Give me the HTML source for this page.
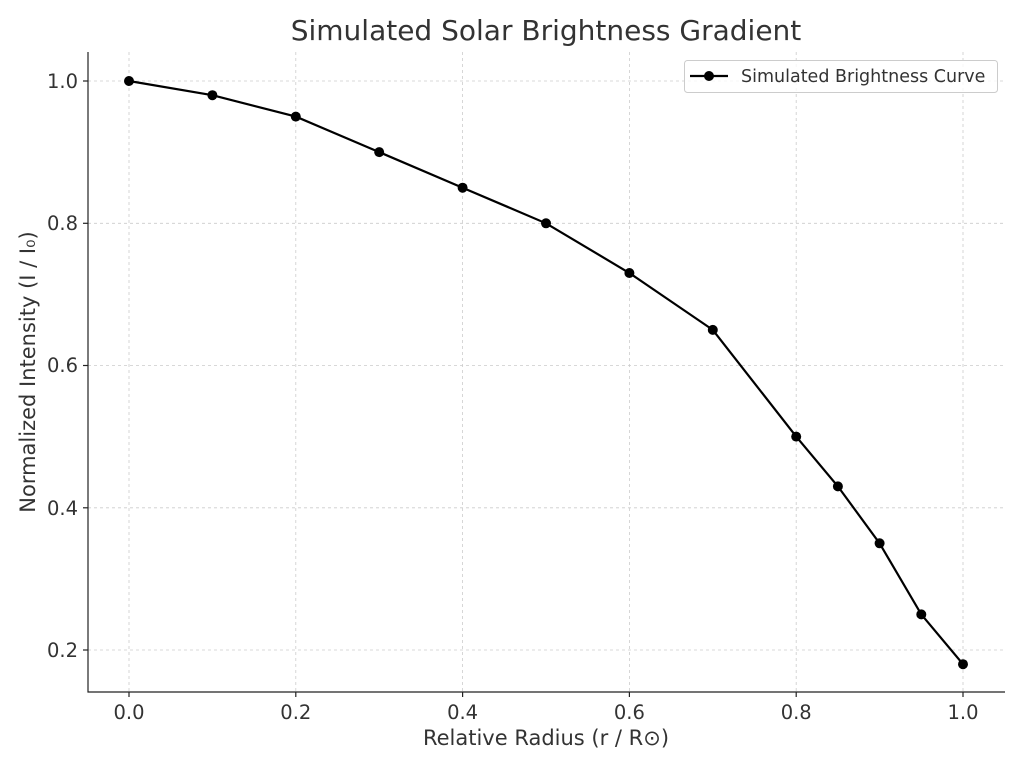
<!DOCTYPE html><html><head><meta charset="utf-8"><style>body{margin:0;background:#fff}svg{display:block}text{font-family:"DejaVu Sans",sans-serif;fill:#333}</style></head><body>
<svg width="1024" height="768" xmlns="http://www.w3.org/2000/svg">
<text x="546" y="40" font-size="28" text-anchor="middle">Simulated Solar Brightness Gradient</text>
<g stroke="#ccc" stroke-dasharray="3,3" stroke-width="0.8">
<line x1="129" y1="52" x2="129" y2="692"/><line x1="295.8" y1="52" x2="295.8" y2="692"/><line x1="462.6" y1="52" x2="462.6" y2="692"/><line x1="629.4" y1="52" x2="629.4" y2="692"/><line x1="796.2" y1="52" x2="796.2" y2="692"/><line x1="963" y1="52" x2="963" y2="692"/>
<line x1="88" y1="81" x2="1005" y2="81"/><line x1="88" y1="223.3" x2="1005" y2="223.3"/><line x1="88" y1="365.5" x2="1005" y2="365.5"/><line x1="88" y1="507.8" x2="1005" y2="507.8"/><line x1="88" y1="650" x2="1005" y2="650"/>
</g>
<g stroke="#222" stroke-width="1.2"><line x1="88" y1="52" x2="88" y2="692.5"/><line x1="87.5" y1="692" x2="1005" y2="692"/>
<line x1="129" y1="692" x2="129" y2="697"/><line x1="295.8" y1="692" x2="295.8" y2="697"/><line x1="462.6" y1="692" x2="462.6" y2="697"/><line x1="629.4" y1="692" x2="629.4" y2="697"/><line x1="796.2" y1="692" x2="796.2" y2="697"/><line x1="963" y1="692" x2="963" y2="697"/>
<line x1="83" y1="81" x2="88" y2="81"/><line x1="83" y1="223.3" x2="88" y2="223.3"/><line x1="83" y1="365.5" x2="88" y2="365.5"/><line x1="83" y1="507.8" x2="88" y2="507.8"/><line x1="83" y1="650" x2="88" y2="650"/></g>
<g font-size="19.5" text-anchor="middle"><text x="129" y="719">0.0</text><text x="295.8" y="719">0.2</text><text x="462.6" y="719">0.4</text><text x="629.4" y="719">0.6</text><text x="796.2" y="719">0.8</text><text x="963" y="719">1.0</text></g>
<g font-size="19.5" text-anchor="end"><text x="78" y="88">1.0</text><text x="78" y="230">0.8</text><text x="78" y="372">0.6</text><text x="78" y="515">0.4</text><text x="78" y="657">0.2</text></g>
<text x="546" y="745" font-size="21" text-anchor="middle">Relative Radius (r / R⊙)</text>
<text transform="translate(35,372) rotate(-90)" font-size="21" text-anchor="middle">Normalized Intensity (I / I₀)</text>
<polyline fill="none" stroke="#000" stroke-width="2.2" points="129,81 212.4,95.2 295.8,116.6 379.2,152.1 462.6,187.7 546,223.3 629.4,273 712.8,329.9 796.2,436.6 837.9,486.4 879.6,543.3 921.3,614.4 963,664.2"/>
<g fill="#000"><circle cx="129" cy="81" r="5"/><circle cx="212.4" cy="95.2" r="5"/><circle cx="295.8" cy="116.6" r="5"/><circle cx="379.2" cy="152.1" r="5"/><circle cx="462.6" cy="187.7" r="5"/><circle cx="546" cy="223.3" r="5"/><circle cx="629.4" cy="273" r="5"/><circle cx="712.8" cy="329.9" r="5"/><circle cx="796.2" cy="436.6" r="5"/><circle cx="837.9" cy="486.4" r="5"/><circle cx="879.6" cy="543.3" r="5"/><circle cx="921.3" cy="614.4" r="5"/><circle cx="963" cy="664.2" r="5"/></g>
<rect x="684.5" y="60.5" width="313" height="32" rx="3" fill="#fff" fill-opacity="0.8" stroke="#ccc"/>
<line x1="690" y1="76" x2="728" y2="76" stroke="#000" stroke-width="2.2"/><circle cx="709" cy="76" r="5"/>
<text x="741" y="82" font-size="17.5">Simulated Brightness Curve</text>
</svg></body></html>
